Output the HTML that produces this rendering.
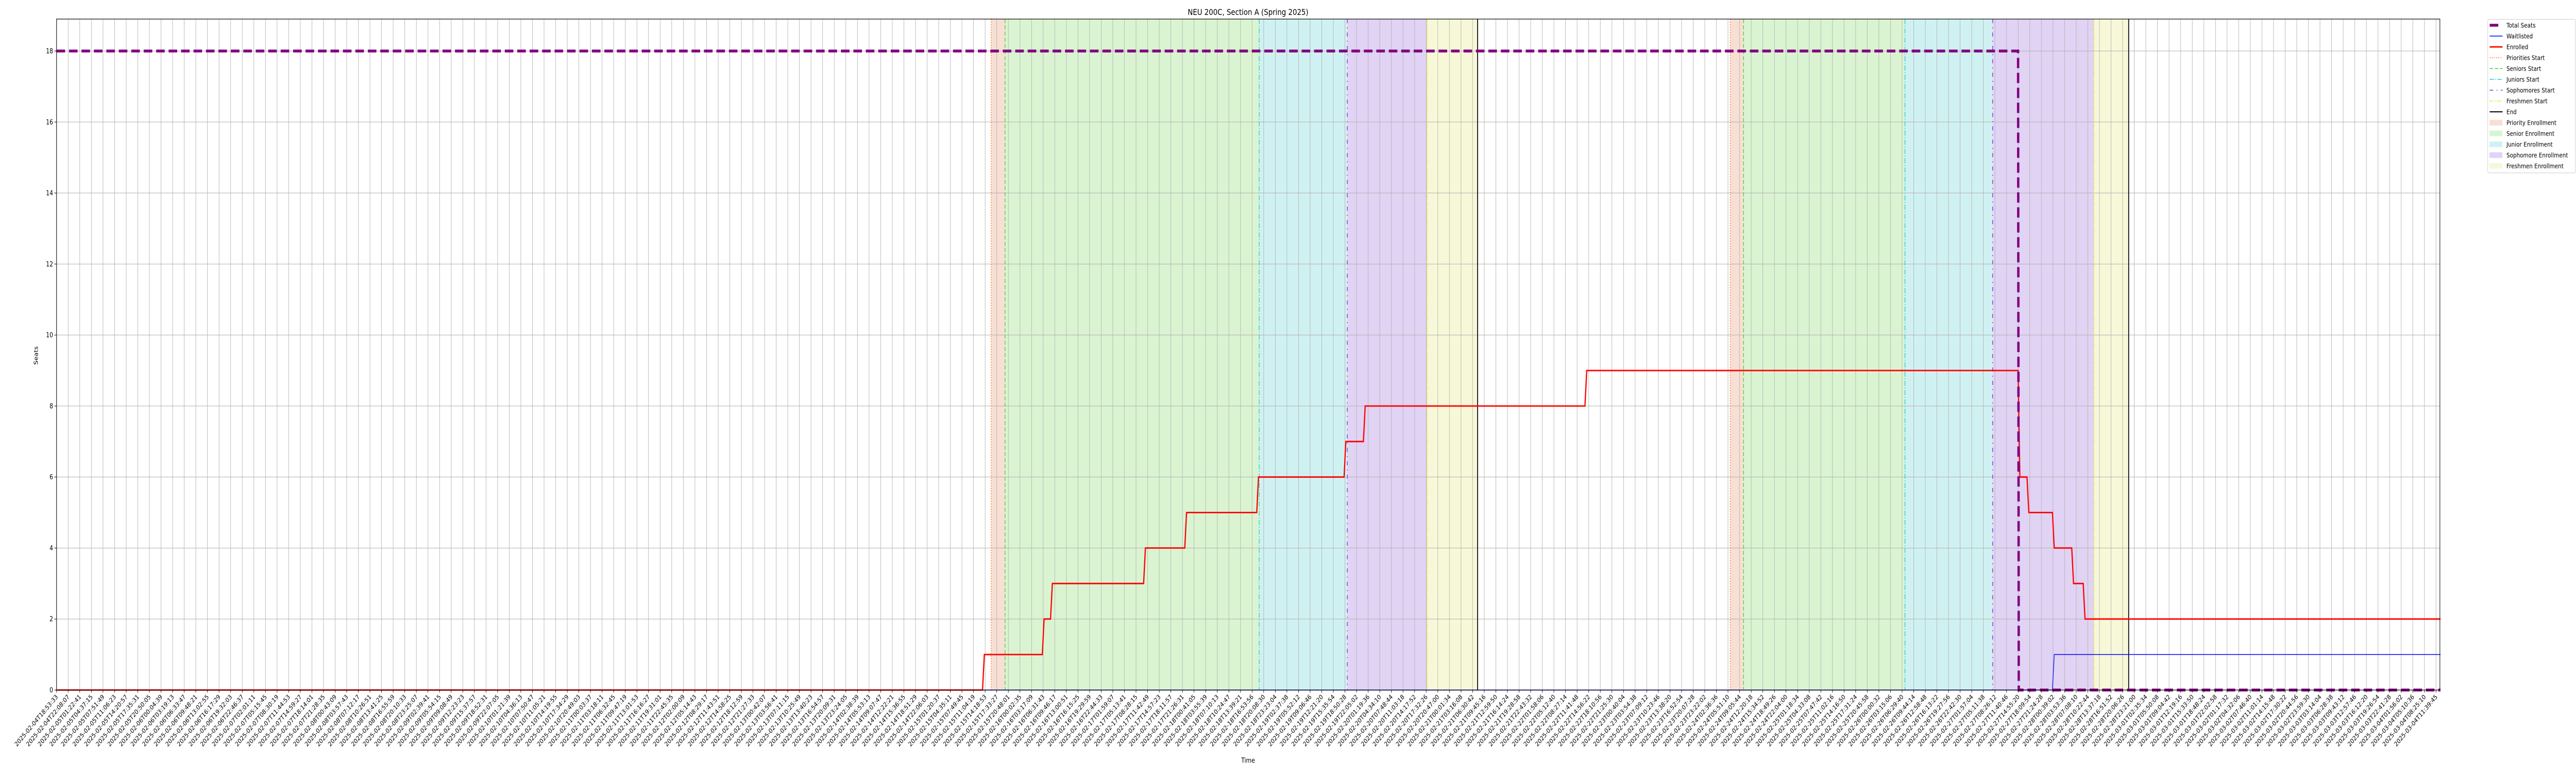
<!DOCTYPE html>
<html><head><meta charset="utf-8"><meta name="viewport" content="width=6000, initial-scale=1"><title>NEU 200C, Section A (Spring 2025)</title>
<style>
html,body{margin:0;padding:0;background:#fff;width:100%;height:100%;overflow:hidden;}
svg{display:block;position:fixed;left:0;top:0;width:100vw;height:100vh;font-family:"DejaVu Sans","Liberation Sans",sans-serif;}
</style></head>
<body>
<svg id="chart" xmlns="http://www.w3.org/2000/svg" viewBox="0 0 6000 1500" preserveAspectRatio="none" overflow="hidden">
<rect x="0" y="0" width="6000" height="1500" fill="#fff"/>
<g id="periods"></g>
<g id="grid"></g>
<g id="vlines"></g>
<g id="series"></g>
<g id="axes"></g>
<text x="2907" y="29" text-anchor="middle" font-size="16">NEU 200C, Section A (Spring 2025)</text>
<text x="2907" y="1480" text-anchor="middle" font-size="13">Time</text>
<text x="0" y="0" transform="translate(88,690) rotate(-90)" text-anchor="middle" font-size="13">Seats</text>
<g id="legend"></g>
</svg>
<script>
// ---- data (hours since 2025-02-04T18:53:33) ----
const yTicks = [0, 2, 4, 6, 8, 10, 12, 14, 16, 18];
const tickCount = 206;
const spanHours = 664.77;
const totalSeatsTimes = [0, 548.0, 548.2, 666];
const totalSeatsValues = [18, 18, 0, 0];
const enrolledTimes = [0, 258.7, 259.2, 275.4, 275.9, 277.7, 278.2, 303.7, 304.2, 315.2, 315.7, 335.3, 335.8, 359.7, 360.2, 365.1, 365.6, 427.0, 427.5, 548.0, 548.5, 550.5, 551.0, 557.6, 558.1, 563.0, 563.5, 566.2, 566.7, 666];
const enrolledValues = [0, 0, 1, 1, 2, 2, 3, 3, 4, 4, 5, 5, 6, 6, 7, 7, 8, 8, 9, 9, 6, 6, 5, 5, 4, 4, 3, 3, 2, 2];
const waitlistTimes = [0, 557.6, 558.1, 666];
const waitlistValues = [0, 0, 1, 1];
const periodNames = ["Priority", "Senior", "Junior", "Sophomore", "Freshmen"];
const round1Starts = [261.1, 265.0, 336.0, 360.6, 382.9];
const round1End = 397.0;
const round2Starts = [467.6, 471.3, 516.4, 540.9, 569.2];
const round2End = 578.9;

// ---- layout ----
const L = 131.7, R = 5683, T = 37, B = 1339;
const pxPerHour = (5674 - 131.7) / spanHours;
const yMax = 18.9;
const xs = h => L + h * pxPerHour;
const ys = v => B - v / yMax * (B - T);
const t0 = Date.UTC(2025, 1, 4, 18, 53, 33);
const NS = "http://www.w3.org/2000/svg";
function mk(tag, attrs, parent) {
  const e = document.createElementNS(NS, tag);
  for (const k in attrs) e.setAttribute(k, attrs[k]);
  parent.appendChild(e);
  return e;
}
const fills = ["#f7dfd4", "#daf4d1", "#d0f1f2", "#e1d3f4", "#f7f8d8"];
const lineCols = ["#ff6a1a", "#4ccc2a", "#22cccc", "#7a2ad8", "#e6e632"];
const dashes = ["2 3", "8 4", "10 3 2 3", "8 8 2 8", "7 2 2 2 2 2"];

// periods
const gP = document.getElementById("periods");
const gV = document.getElementById("vlines");
[[round1Starts, round1End, "round1"], [round2Starts, round2End, "round2"]].forEach(([st, en, rn]) => {
  for (let i = 0; i < st.length; i++) {
    const a = st[i], b = i < st.length - 1 ? st[i + 1] : en;
    const r = mk("rect", {x: xs(a), y: T, width: xs(b) - xs(a), height: B - T, fill: fills[i]}, gP);
    
    
  }
});

// grid
const gG = document.getElementById("grid");
const gA = document.getElementById("axes");
const tickStep = spanHours / (tickCount - 1);
for (let i = 0; i < tickCount; i++) {
  const h = i * tickStep, x = xs(h);
  const gl = mk("line", {x1: x, y1: T, x2: x, y2: B, stroke: "#b0b0b0", "stroke-width": 1}, gG);
  
  
  const tk = mk("line", {x1: x, y1: B, x2: x, y2: B + 5, stroke: "#000", "stroke-width": 1}, gA);
  
  
  const lab = new Date(t0 + h * 3600000).toISOString().slice(0, 19);
  const tx = mk("text", {x: 0, y: 0, "font-size": 12.5, "text-anchor": "end", transform: `translate(${x + 4},${B + 14}) rotate(-45)`}, gA);
  tx.textContent = lab;
  
  
}
yTicks.forEach(v => {
  const y = ys(v);
  const gl = mk("line", {x1: L, y1: y, x2: R, y2: y, stroke: "#b0b0b0", "stroke-width": 1}, gG);
  
  
  const tk = mk("line", {x1: L - 5, y1: y, x2: L, y2: y, stroke: "#000", "stroke-width": 1}, gA);
  
  
  const tx = mk("text", {x: L - 8, y: y + 4.5, "font-size": 13, "text-anchor": "end"}, gA);
  tx.textContent = v;
  
  
});
const frame = mk("rect", {x: L, y: T, width: R - L, height: B - T, fill: "none", stroke: "#000", "stroke-width": 1.2}, gA);



// vertical start lines
[[round1Starts, round1End, "round1"], [round2Starts, round2End, "round2"]].forEach(([st, en, rn]) => {
  for (let i = 0; i < st.length; i++) {
    const x = xs(st[i]);
    const l = mk("line", {x1: x, y1: T, x2: x, y2: B, stroke: lineCols[i], "stroke-width": 1.5, "stroke-dasharray": dashes[i]}, gV);
    
    
  }
  const xe = xs(en);
  const le = mk("line", {x1: xe, y1: T, x2: xe, y2: B, stroke: "#000", "stroke-width": 2}, gV);
  
  
});

// series
const gS = document.getElementById("series");
function pts(ts, vs) { return ts.map((t, i) => xs(Math.min(t, 666)).toFixed(1) + "," + ys(vs[i]).toFixed(1)).join(" "); }
const wl = mk("polyline", {points: pts(waitlistTimes, waitlistValues), fill: "none", stroke: "#0000ff", "stroke-width": 1.5}, gS);


const en = mk("polyline", {points: pts(enrolledTimes, enrolledValues), fill: "none", stroke: "#ff0000", "stroke-width": 2.8, "stroke-linejoin": "miter"}, gS);


const ts = mk("polyline", {points: pts(totalSeatsTimes, totalSeatsValues), fill: "none", stroke: "#800080", "stroke-width": 5.5, "stroke-dasharray": "20 9"}, gS);



// legend
const gL = document.getElementById("legend");
const box = mk("rect", {x: 5794.5, y: 37.5, width: 204, height: 298, rx: 3, fill: "#fff", stroke: "#cccccc", "stroke-width": 1}, gL);


const legendLabels = ["Total Seats", "Waitlisted", "Enrolled", "Priorities Start", "Seniors Start", "Juniors Start", "Sophomores Start", "Freshmen Start", "End", "Priority Enrollment", "Senior Enrollment", "Junior Enrollment", "Sophomore Enrollment", "Freshmen Enrollment"];
legendLabels.forEach((lab, i) => {
  const cy = 49 + i * 21;
  if (i === 0) {
    const h = mk("line", {x1: 5799, y1: cy, x2: 5819, y2: cy, stroke: "#800080", "stroke-width": 5.5}, gL);
    
    
  } else if (i <= 2) {
    const h = mk("line", {x1: 5799, y1: cy, x2: 5829, y2: cy, stroke: i === 1 ? "#0000ff" : "#ff0000", "stroke-width": i === 1 ? 1.5 : 2.8}, gL);
    
    
  } else if (i <= 7) {
    const h = mk("line", {x1: 5799, y1: cy, x2: 5829, y2: cy, stroke: lineCols[i - 3], "stroke-width": 1.5, "stroke-dasharray": dashes[i - 3]}, gL);
    
    
  } else if (i === 8) {
    const h = mk("line", {x1: 5799, y1: cy, x2: 5829, y2: cy, stroke: "#000", "stroke-width": 2}, gL);
    
    
  } else {
    const h = mk("rect", {x: 5799, y: cy - 5, width: 29, height: 10, fill: fills[i - 9], stroke: fills[i - 9]}, gL);
    
    
  }
  const t = mk("text", {x: 5838, y: cy + 4.5, "font-size": 12.5}, gL);
  t.textContent = lab;
  
  
});
</script>
</body></html>
